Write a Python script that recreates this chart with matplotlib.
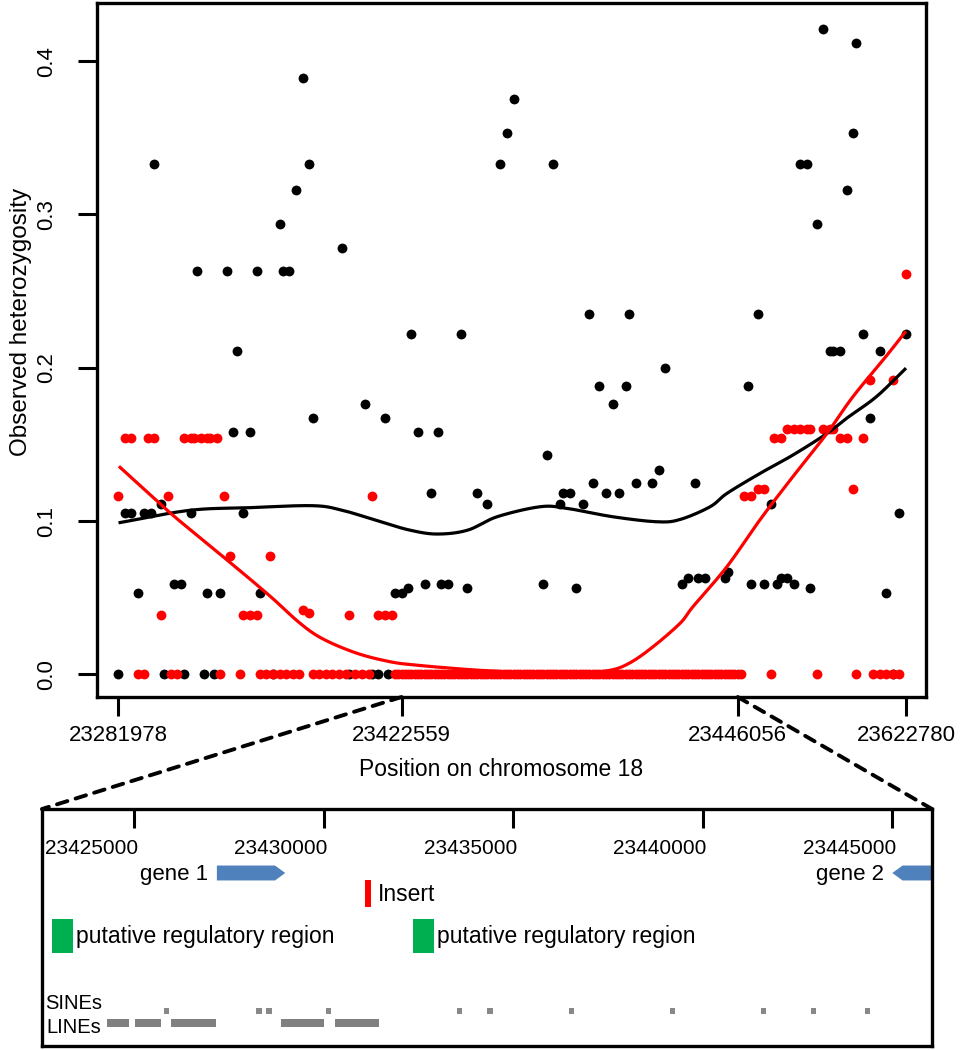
import numpy as np
import matplotlib
matplotlib.use("Agg")
import matplotlib.pyplot as plt
from matplotlib.patches import Rectangle, FancyArrow, ConnectionPatch
import matplotlib.transforms as mtransforms

# ---- top panel: heterozygosity per SNP (x = SNP order along the region) ----
black_idx = [1, 3, 5, 7, 9, 11, 12, 14, 15, 18, 20, 21, 23, 25, 27, 28, 30, 32, 34, 36,
             37, 39, 41, 43, 44, 48, 50, 51, 53, 55, 57, 59, 60, 69, 71, 76, 78, 80, 82, 83,
             85, 87, 89, 90, 92, 94, 96, 98, 99, 101, 105, 107, 110, 113, 117, 119, 121, 130, 131, 133,
             135, 136, 138, 140, 142, 144, 145, 147, 149, 151, 153, 155, 156, 158, 163, 165, 167, 172, 174, 176,
             177, 179, 185, 186, 192, 193, 195, 197, 199, 201, 202, 204, 206, 208, 210, 211, 213, 215, 217, 218,
             220, 222, 224, 225, 227, 229, 232, 234, 236, 238, 240]
black_het = [0.0, 0.105, 0.105, 0.053, 0.105, 0.105, 0.333, 0.111, 0.0, 0.059, 0.059, 0.0, 0.105, 0.263, 0.0, 0.053, 0.0, 0.053, 0.263, 0.158,
             0.211, 0.105, 0.158, 0.263, 0.053, 0.0, 0.294, 0.263, 0.263, 0.316, 0.389, 0.333, 0.167, 0.278, 0.0, 0.176, 0.0, 0.0, 0.167, 0.0,
             0.053, 0.053, 0.056, 0.222, 0.158, 0.059, 0.118, 0.158, 0.059, 0.059, 0.222, 0.056, 0.118, 0.111, 0.333, 0.353, 0.375, 0.059, 0.143, 0.333,
             0.111, 0.118, 0.118, 0.056, 0.111, 0.235, 0.125, 0.188, 0.118, 0.176, 0.118, 0.188, 0.235, 0.125, 0.125, 0.133, 0.200, 0.059, 0.0625, 0.125,
             0.0625, 0.0625, 0.0625, 0.0667, 0.188, 0.059, 0.235, 0.059, 0.111, 0.059, 0.0625, 0.0625, 0.059, 0.333, 0.333, 0.056, 0.294, 0.421, 0.211, 0.211,
             0.211, 0.316, 0.353, 0.412, 0.222, 0.167, 0.211, 0.053, 0.0, 0.105, 0.222]

red_idx = [1, 3, 5, 7, 9, 10, 12, 14, 16, 17, 19, 21, 23, 24, 26, 28, 29, 31, 32, 33,
           35, 38, 39, 41, 43, 44, 46, 47, 48, 50, 52, 54, 56, 57, 59, 60, 62, 64, 66, 68,
           70, 71, 73, 75, 77, 78, 80, 82, 84,
           191, 193, 195, 197, 199, 200, 202, 204, 206, 208, 210, 211, 213, 215, 217, 218, 220, 222, 224, 225,
           227, 229, 230, 232, 234, 236, 236, 238, 240]
red_het = [0.116, 0.154, 0.154, 0.0, 0.0, 0.154, 0.154, 0.0385, 0.116, 0.0, 0.0, 0.154, 0.154, 0.154, 0.154, 0.154, 0.154, 0.154, 0.0, 0.116,
           0.077, 0.0, 0.0385, 0.0385, 0.0385, 0.0, 0.0, 0.077, 0.0, 0.0, 0.0, 0.0, 0.0, 0.042, 0.040, 0.0, 0.0, 0.0, 0.0, 0.0,
           0.0, 0.0385, 0.0, 0.0, 0.0, 0.116, 0.0385, 0.0385, 0.0385,
           0.116, 0.116, 0.121, 0.121, 0.0, 0.154, 0.154, 0.16, 0.16, 0.16, 0.16, 0.16, 0.0, 0.16, 0.16, 0.16, 0.154, 0.154, 0.121, 0.0,
           0.154, 0.192, 0.0, 0.0, 0.0, 0.0, 0.192, 0.0, 0.261]
# long stretch of monomorphic SNPs in the red group
red_zero_idx = list(range(85, 191))

# smoothed trend lines
black_fit_idx = [1.6, 22.8, 41, 60, 69, 80.5, 89.6, 97.8, 107, 116, 129, 137, 151, 164.5, 171.5, 180.6, 185.7, 195.7, 205.7, 216, 222, 231, 239.7]
black_fit_het = [0.099, 0.107, 0.1087, 0.110, 0.107, 0.0996, 0.094, 0.0915, 0.094, 0.1028, 0.1093, 0.1083, 0.1028, 0.0995, 0.101, 0.1093, 0.118, 0.131, 0.143, 0.157, 0.167, 0.181, 0.199]
red_fit_idx = [1.6, 15.9, 25.9, 35.9, 47.1, 56.2, 63.2, 73.5, 83.5, 90.5, 100.8, 110.8, 120.8, 141, 150.2, 156.3, 163.3, 171.5, 175.4, 185.7, 195.7, 205.7, 216, 223.9, 234.2, 239.7]
red_fit_het = [0.135, 0.107, 0.089, 0.0713, 0.051, 0.0333, 0.0230, 0.0137, 0.0082, 0.0062, 0.0042, 0.0026, 0.0016, 0.0012, 0.0026, 0.0075, 0.018, 0.0333, 0.0441, 0.0702, 0.1007, 0.1289, 0.157, 0.181, 0.208, 0.223]

tick_idx = [1, 87, 189, 240]
tick_pos = ['23281978', '23422559', '23446056', '23622780']

# ---- bottom panel: annotation of the zoomed region (bp) ----
zoom_start, zoom_end = 23422559, 23446056
zoom_ticks = [23425000, 23430000, 23435000, 23440000, 23445000]
gene1 = (23427176, 23428981)
gene2 = (23446700, 23445009)   # reverse strand, runs off the window
insert = (23431076, 23431245)
reg_regions = [(23422831, 23423386), (23432345, 23432918)]
sine_pos = [23425844, 23428286, 23428550, 23430122, 23433587, 23434380, 23436539,
            23439200, 23441605, 23442926, 23444353]
line_start = [23424269, 23425025, 23425960, 23428867, 23430284]
line_end = [23424866, 23425704, 23427149, 23429993, 23431457]


def smooth(xs, ys, n=20):
    # Catmull-Rom through the read-off points, only to draw a smooth curve
    xs = np.asarray(xs, float)
    ys = np.asarray(ys, float)
    px = np.concatenate([[2 * xs[0] - xs[1]], xs, [2 * xs[-1] - xs[-2]]])
    py = np.concatenate([[2 * ys[0] - ys[1]], ys, [2 * ys[-1] - ys[-2]]])
    ox, oy = [], []
    t = np.linspace(0, 1, n, endpoint=False)
    for i in range(1, len(px) - 2):
        for p, o in ((px, ox), (py, oy)):
            p0, p1, p2, p3 = p[i - 1], p[i], p[i + 1], p[i + 2]
            o.extend(0.5 * (2 * p1 + (-p0 + p2) * t + (2 * p0 - 5 * p1 + 4 * p2 - p3) * t ** 2
                            + (-p0 + 3 * p1 - 3 * p2 + p3) * t ** 3))
    ox.append(xs[-1])
    oy.append(ys[-1])
    return ox, oy


plt.rcParams['font.family'] = ['Liberation Sans', 'DejaVu Sans']
W, H = 969, 1050
fig = plt.figure(figsize=(W / 100, H / 100), dpi=100)

ax = fig.add_axes([97 / W, 1 - 697 / H, 829 / W, 694 / H])
ax.scatter(black_idx, black_het, s=50, color='black', lw=0, zorder=2)
ax.scatter(red_idx, red_het, s=50, color='red', lw=0, zorder=3)
ax.scatter(red_zero_idx, [0.0] * len(red_zero_idx), s=50, color='red', lw=0, zorder=3)
bx, by = smooth(black_fit_idx, black_fit_het)
rx, ry = smooth(red_fit_idx, red_fit_het)
ax.plot(bx, by, color='black', lw=2.3, zorder=4)
ax.plot(rx, ry, color='red', lw=2.3, zorder=5)

ax.set_xlim(-5.4, 246.1)
ax.set_ylim(-0.0148, 0.4379)
ax.set_xticks(tick_idx)
ax.set_xticklabels(tick_pos, fontsize=16)
ax.set_yticks([0, 0.1, 0.2, 0.3, 0.4])
ax.set_yticklabels(['0.0', '0.1', '0.2', '0.3', '0.4'], fontsize=16, rotation=90, va='center')
ax.tick_params(length=14, width=2.2)
ax.tick_params(axis='x', pad=6)
ax.tick_params(axis='y', pad=15)
for sp in ax.spines.values():
    sp.set_linewidth(2.4)
ax.set_xlabel('Position on chromosome 18', fontsize=16.5, va='center')
ax.xaxis.set_label_coords(0.487, (697 - 770) / 694)
ax.set_ylabel('Observed heterozygosity', fontsize=17.5, va='center')
ax.yaxis.set_label_coords((21 - 97) / 829, (697 - 322) / 694)

# ---- annotation track ----
ax2 = fig.add_axes([42 / W, 1 - 1046 / H, 890 / W, 237 / H])
ax2.set_xlim(zoom_start, zoom_end)
ax2.set_ylim(0, 1)
ax2.set_yticks([])
ax2.xaxis.tick_top()
ax2.set_xticks(zoom_ticks)
ax2.set_xticklabels([])
ax2.tick_params(axis='x', direction='in', length=13.5, width=2.2)
for sp in ax2.spines.values():
    sp.set_linewidth(2.4)
tr = ax2.get_xaxis_transform()
shift = mtransforms.offset_copy(tr, fig=fig, x=4, y=0, units='dots')
for t in zoom_ticks:
    ax2.text(t, 0.835, str(t), transform=shift, ha='right', va='center', fontsize=15)

blue = '#4F81BD'
ax2.add_patch(FancyArrow(gene1[0], 0.730, gene1[1] - gene1[0], 0, width=0.063, head_width=0.063,
                         head_length=270, length_includes_head=True, color=blue, lw=0, transform=tr))
ax2.text(gene1[0] - 230, 0.722, 'gene 1', transform=tr, ha='right', va='center', fontsize=16)
ax2.add_patch(FancyArrow(gene2[0], 0.730, gene2[1] - gene2[0], 0, width=0.063, head_width=0.063,
                         head_length=270, length_includes_head=True, color=blue, lw=0, transform=tr))
ax2.text(gene2[1] - 230, 0.722, 'gene 2', transform=tr, ha='right', va='center', fontsize=16)

ax2.add_patch(Rectangle((insert[0], 0.587), insert[1] - insert[0], 0.113, color='red', lw=0, transform=tr))
ax2.text(insert[1] + 170, 0.641, 'Insert', transform=tr, ha='left', va='center', fontsize=16.5)

for a, b in reg_regions:
    ax2.add_patch(Rectangle((a, 0.392), b - a, 0.144, color='#00B050', lw=0, transform=tr))
    ax2.text(b + 60, 0.461, 'putative regulatory region', transform=tr, ha='left', va='center', fontsize=16.5)

for p in sine_pos:
    ax2.add_patch(Rectangle((p - 72, 0.135), 145, 0.025, color='#888888', lw=0, transform=tr))
for a, b in zip(line_start, line_end):
    ax2.add_patch(Rectangle((a, 0.082), b - a, 0.034, color='#808080', lw=0, transform=tr))
ax2.text(zoom_start + 80, 0.181, 'SINEs', transform=tr, ha='left', va='center', fontsize=14.5)
ax2.text(zoom_start + 110, 0.078, 'LINEs', transform=tr, ha='left', va='center', fontsize=14.5)

# dashed lines linking the zoomed window to the annotation track
y0 = ax.get_ylim()[0]
for xa, xb in ((tick_idx[1], 0), (tick_idx[2], 1)):
    con = ConnectionPatch(xyA=(xa, y0), coordsA=ax.transData, xyB=(xb, 1), coordsB=ax2.transAxes,
                          color='black', lw=2.8, linestyle=(0, (2.8, 2.2)))
    fig.add_artist(con)

fig.savefig('out.png', dpi=100)
